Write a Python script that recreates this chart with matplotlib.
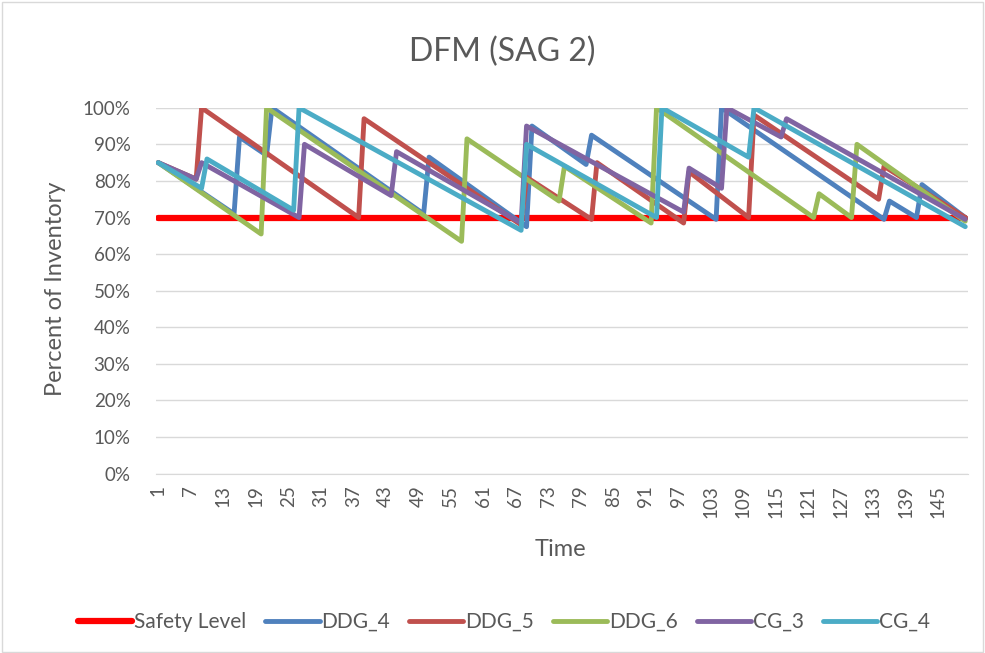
import matplotlib.pyplot as plt
from matplotlib.patches import Rectangle

plt.rcParams['font.family'] = ['Lato', 'DejaVu Sans']

# category axis: time steps 1..150
n_steps = 150
tick_steps = list(range(1, 146, 6))

safety_t = [1, 150]
safety_v = [70, 70]

# vertices of each sawtooth (time step, percent)
ddg4_t = [1, 15, 16, 21, 22, 50, 51, 69, 70, 80, 81, 104, 105, 135, 136, 141, 142, 150]
ddg4_v = [85, 71, 92, 87, 100, 71, 86.5, 67.5, 95, 84.5, 92.5, 69.5, 100, 69.5, 74.5, 70, 79, 70]

ddg5_t = [1, 8, 9, 38, 39, 68, 69, 81, 82, 98, 99, 110, 111, 134, 135, 150]
ddg5_v = [85, 80.5, 100, 70, 97, 68, 81, 69.5, 85, 68.5, 82.5, 70, 98, 75, 84, 70]

ddg6_t = [1, 20, 21, 57, 58, 75, 76, 92, 93, 122, 123, 129, 130, 150]
ddg6_v = [85, 65.5, 100, 63.5, 91.5, 74.5, 84, 68.5, 100, 70, 76.5, 70, 90, 69]

cg3_t = [1, 8, 9, 27, 28, 44, 45, 68, 69, 98, 99, 105, 106, 116, 117, 150]
cg3_v = [85, 80.5, 85, 70, 90, 76, 88, 68.5, 95, 71.5, 83.5, 78, 100, 92, 97, 69.5]

cg4_t = [1, 9, 10, 26, 27, 68, 69, 93, 94, 110, 111, 150]
cg4_v = [85, 78, 86, 72, 100, 66.5, 90, 70, 100, 86.5, 100, 67.5]

series = [
    ('Safety Level', safety_t, safety_v, '#FF0000', 4.5),
    ('DDG_4', ddg4_t, ddg4_v, '#4F81BD', 3.5),
    ('DDG_5', ddg5_t, ddg5_v, '#C0504D', 3.5),
    ('DDG_6', ddg6_t, ddg6_v, '#9BBB59', 3.5),
    ('CG_3', cg3_t, cg3_v, '#8064A2', 3.5),
    ('CG_4', cg4_t, cg4_v, '#4BACC6', 3.5),
]

txt = '#595959'

fig = plt.figure(figsize=(9.85, 6.53), dpi=100)
fig.patches.append(Rectangle((0.002, 0.002), 0.996, 0.995, transform=fig.transFigure,
                             fill=False, edgecolor='#d9d9d9', lw=1))

ax = fig.add_axes([0.1579, 0.2746, 0.8248, 0.5604])

for name, t, v, c, lw in series:
    ax.plot(t, v, color=c, lw=lw, label=name, solid_capstyle='round',
            solid_joinstyle='round')

ax.set_xlim(0.5, n_steps + 0.5)
ax.set_ylim(0, 100)
ax.set_yticks(range(0, 101, 10))
ax.set_yticklabels([f'{p}%' for p in range(0, 101, 10)])
ax.set_xticks(tick_steps)
ax.set_xticklabels([str(s) for s in tick_steps], rotation=90)
ax.grid(axis='y', color='#d9d9d9', lw=1)
ax.set_axisbelow(True)
for s in ['top', 'right', 'left']:
    ax.spines[s].set_visible(False)
ax.spines['bottom'].set_color('#d9d9d9')
ax.tick_params(length=0, labelsize=13.5, colors=txt)
ax.tick_params(axis='y', pad=18)
ax.tick_params(axis='x', pad=8)

fig.text(55 / 985, 1 - 289 / 653, 'Percent of Inventory', rotation=90, fontsize=17,
         color=txt, ha='center', va='center')
fig.text(560 / 985, 1 - 549 / 653, 'Time', fontsize=17, color=txt, ha='center', va='center')
fig.text(502 / 985, 1 - 52 / 653, 'DFM (SAG 2)', fontsize=23, color=txt, ha='center', va='center')

fig.legend(loc='center', bbox_to_anchor=(504 / 985, 1 - 622 / 653), ncol=6, frameon=False,
           fontsize=15, handlelength=2.6, handletextpad=0.1, columnspacing=0.9,
           labelcolor=txt)

fig.savefig('out.png', dpi=100)
